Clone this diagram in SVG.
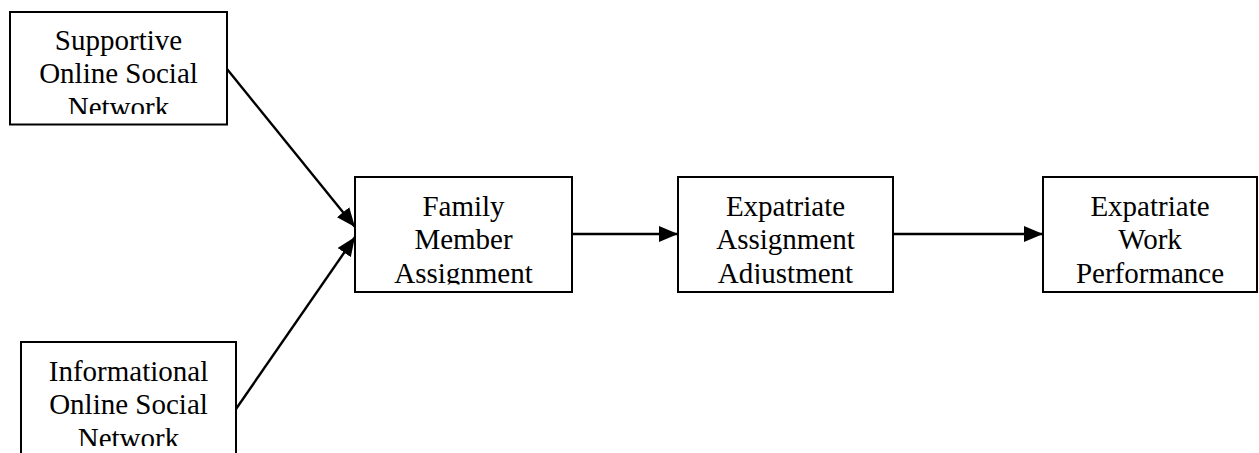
<svg xmlns="http://www.w3.org/2000/svg" width="1259" height="453" viewBox="0 0 1259 453">
<style>
.box{fill:#fff;stroke:#000;stroke-width:2}
.t{font-family:"Liberation Serif","Times New Roman",serif;font-size:29px;fill:#000;text-anchor:middle}
.c{stroke:#000;stroke-width:2.4;fill:none;marker-end:url(#ah)}
</style>
<defs>
<marker id="ah" markerUnits="userSpaceOnUse" markerWidth="20" markerHeight="16" refX="19" refY="8" orient="auto" viewBox="0 0 20 16">
<path d="M0,0 L19,8 L0,16 z" fill="#000"/>
</marker>
<clipPath id="c1"><rect x="10" y="12" width="217" height="102"/></clipPath>
<clipPath id="c2"><rect x="21" y="342" width="215" height="104"/></clipPath>
<clipPath id="c3"><rect x="355" y="177" width="217" height="107.5"/></clipPath>
<clipPath id="c4"><rect x="678" y="177" width="215" height="107"/></clipPath>
<clipPath id="c5"><rect x="1043" y="177" width="214" height="107.5"/></clipPath>
</defs>
<g id="connectors">
<line class="c" x1="227" y1="69" x2="355" y2="227"/>
<line class="c" x1="236" y1="409" x2="355" y2="237"/>
<line class="c" x1="572" y1="234" x2="678" y2="234"/>
<line class="c" x1="893" y1="234" x2="1043" y2="234"/>
</g>
<g id="supportive">
<rect class="box" x="10" y="12" width="217" height="112.5"/>
<g clip-path="url(#c1)">
<text class="t" x="118.5" y="49.5">Supportive</text>
<text class="t" x="118.5" y="83">Online Social</text>
<text class="t" x="118.5" y="116.5">Network</text>
</g>
</g>
<g id="informational">
<rect class="box" x="21" y="342" width="215" height="130"/>
<g clip-path="url(#c2)">
<text class="t" x="128.5" y="381">Informational</text>
<text class="t" x="128.5" y="414">Online Social</text>
<text class="t" x="128.5" y="448">Network</text>
</g>
</g>
<g id="family">
<rect class="box" x="355" y="177" width="217" height="115"/>
<g clip-path="url(#c3)">
<text class="t" x="463.5" y="215.5">Family</text>
<text class="t" x="463.5" y="249">Member</text>
<text class="t" x="463.5" y="282.5">Assignment</text>
</g>
</g>
<g id="adjustment">
<rect class="box" x="678" y="177" width="215" height="115"/>
<g clip-path="url(#c4)">
<text class="t" x="785.5" y="215.5">Expatriate</text>
<text class="t" x="785.5" y="249">Assignment</text>
<text class="t" x="785.5" y="282.5">Adjustment</text>
</g>
</g>
<g id="performance">
<rect class="box" x="1043" y="177" width="214" height="115"/>
<g clip-path="url(#c5)">
<text class="t" x="1150" y="215.5">Expatriate</text>
<text class="t" x="1150" y="249">Work</text>
<text class="t" x="1150" y="282.5">Performance</text>
</g>
</g>
</svg>
